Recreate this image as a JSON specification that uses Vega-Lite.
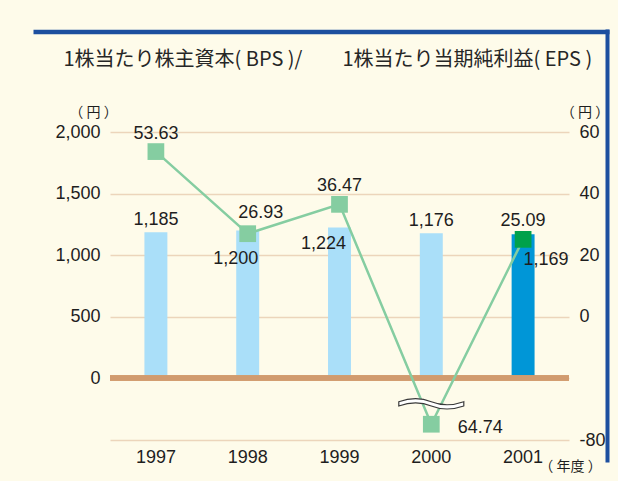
{
  "$schema": "https://vega.github.io/schema/vega-lite/v6.json",
  "width": 459,
  "height": 308,
  "autosize": {"type": "none"},
  "padding": {"left": 110, "top": 132, "right": 49, "bottom": 41},
  "background": "#fefbea",
  "config": {
    "view": {"stroke": null},
    "font": "Liberation Sans",
    "axis": {"titleFont": "Noto Sans CJK JP", "titleFontSize": 14, "titleFontWeight": "normal", "titleColor": "#1e1e1e"}
  },
  "data": {
    "values": [
      {"year": "1997", "bps": 1185, "eps": 53.63, "eps_label": "53.63"},
      {"year": "1998", "bps": 1200, "eps": 26.93, "eps_label": "26.93"},
      {"year": "1999", "bps": 1224, "eps": 36.47, "eps_label": "36.47"},
      {"year": "2000", "bps": 1176, "eps": -64.74, "eps_label": "64.74"},
      {"year": "2001", "bps": 1169, "eps": 25.09, "eps_label": "25.09"}
    ]
  },
  "layer": [
    {
      "layer": [
        {
          "layer": [
            {
              "mark": {"type": "bar", "width": {"band": 0.25}},
              "encoding": {
                "x": {
                  "field": "year", "type": "ordinal",
                  "scale": {"type": "band", "paddingInner": 0, "paddingOuter": 0},
                  "axis": {
                    "orient": "bottom", "domainColor": "#ecd5bb", "domainWidth": 1.5,
                    "ticks": false, "grid": false, "labelAngle": 0, "labelPadding": 8,
                    "labelFontSize": 18, "labelFont": "Liberation Sans", "labelColor": "#1e1e1e",
                    "title": "（ 年度 ）", "titleX": 460, "titleY": 26, "titleAlign": "center",
                    "titleBaseline": "middle", "titleFontSize": 14
                  }
                },
                "y": {
                  "field": "bps", "type": "quantitative",
                  "scale": {"domain": [-504, 2000], "nice": false, "zero": false},
                  "axis": {
                    "orient": "left", "values": [0, 500, 1000, 1500, 2000],
                    "labelExpr": "format(datum.value, ',')",
                    "domain": false, "ticks": false, "grid": true, "gridColor": "#ecd5bb",
                    "gridWidth": 1.5, "labelPadding": 10, "labelFontSize": 18,
                    "labelFont": "Liberation Sans", "labelColor": "#1e1e1e", "labelFlush": false,
                    "title": "（ 円 ）", "titleAngle": 0, "titleX": -17, "titleY": -20,
                    "titleAlign": "center", "titleBaseline": "middle", "titleFontSize": 14
                  }
                },
                "y2": {"datum": 0},
                "color": {
                  "condition": {"test": "datum.year == '2001'", "value": "#0096d7"},
                  "value": "#aadff9"
                }
              }
            },
            {
              "mark": {"type": "rule", "color": "#d19b6f", "strokeWidth": 5},
              "encoding": {"y": {"datum": 0, "type": "quantitative"}}
            },
            {
              "transform": [{"filter": "datum.year == '1997' || datum.year == '2000'"}],
              "mark": {"type": "text", "dy": -12, "baseline": "middle", "fontSize": 18, "font": "Liberation Sans", "color": "#1e1e1e"},
              "encoding": {
                "x": {"field": "year", "type": "ordinal", "scale": {"type": "band", "paddingInner": 0, "paddingOuter": 0}},
                "y": {"field": "bps", "type": "quantitative"},
                "text": {"field": "bps", "type": "quantitative", "format": ","}
              }
            },
            {
              "transform": [{"filter": "datum.year == '1998'"}],
              "mark": {"type": "text", "dx": -12, "dy": 29, "baseline": "middle", "fontSize": 18, "font": "Liberation Sans", "color": "#1e1e1e"},
              "encoding": {
                "x": {"field": "year", "type": "ordinal", "scale": {"type": "band", "paddingInner": 0, "paddingOuter": 0}},
                "y": {"field": "bps", "type": "quantitative"},
                "text": {"field": "bps", "type": "quantitative", "format": ","}
              }
            },
            {
              "transform": [{"filter": "datum.year == '1999'"}],
              "mark": {"type": "text", "dx": -16, "dy": 17, "baseline": "middle", "fontSize": 18, "font": "Liberation Sans", "color": "#1e1e1e"},
              "encoding": {
                "x": {"field": "year", "type": "ordinal", "scale": {"type": "band", "paddingInner": 0, "paddingOuter": 0}},
                "y": {"field": "bps", "type": "quantitative"},
                "text": {"field": "bps", "type": "quantitative", "format": ","}
              }
            },
            {
              "transform": [{"filter": "datum.year == '2001'"}],
              "mark": {"type": "text", "dx": 23, "dy": 26, "baseline": "middle", "fontSize": 18, "font": "Liberation Sans", "color": "#1e1e1e"},
              "encoding": {
                "x": {"field": "year", "type": "ordinal", "scale": {"type": "band", "paddingInner": 0, "paddingOuter": 0}},
                "y": {"field": "bps", "type": "quantitative"},
                "text": {"field": "bps", "type": "quantitative", "format": ","}
              }
            }
          ]
        },
        {
          "layer": [
            {
              "mark": {"type": "line", "color": "#85cda1", "strokeWidth": 2.5},
              "encoding": {
                "x": {"field": "year", "type": "ordinal", "scale": {"type": "band", "paddingInner": 0, "paddingOuter": 0}},
                "y": {
                  "field": "eps", "type": "quantitative",
                  "scale": {"domain": [-80, -20, 60], "range": [308, 246, 0]},
                  "axis": {
                    "orient": "right", "values": [-80, 0, 20, 40, 60], "domain": false,
                    "labelExpr": "datum.value < 0 ? '-' + format(-datum.value, 'd') : format(datum.value, 'd')",
                    "ticks": false, "grid": false, "labelPadding": 10, "labelFontSize": 18,
                    "labelFont": "Liberation Sans", "labelColor": "#1e1e1e", "labelFlush": false,
                    "title": "（ 円 ）", "titleAngle": 0, "titleX": 15.5, "titleY": -20,
                    "titleAlign": "center", "titleBaseline": "middle", "titleFontSize": 14
                  }
                }
              }
            },
            {
              "transform": [{"filter": "datum.year == '2000'"}],
              "mark": {
                "type": "point",
                "shape": "M-1,-0.065 C-0.6,-0.205 -0.3,-0.185 0,-0.065 C0.3,0.055 0.6,0.075 1,-0.065 L1,0.065 C0.6,0.205 0.3,0.185 0,0.065 C-0.3,-0.055 -0.6,-0.075 -1,0.065 Z",
                "filled": true, "fill": "#ffffff", "stroke": "#3a3a3a", "strokeWidth": 1.2,
                "size": 4225, "opacity": 1, "fillOpacity": 1
              },
              "encoding": {
                "x": {"field": "year", "type": "ordinal", "scale": {"type": "band", "paddingInner": 0, "paddingOuter": 0}},
                "y": {"datum": -45, "type": "quantitative"}
              }
            },
            {
              "mark": {"type": "point", "shape": "square", "filled": true, "size": 280, "opacity": 1},
              "encoding": {
                "x": {"field": "year", "type": "ordinal", "scale": {"type": "band", "paddingInner": 0, "paddingOuter": 0}},
                "y": {"field": "eps", "type": "quantitative"},
                "color": {
                  "condition": {"test": "datum.year == '2001'", "value": "#00a14b"},
                  "value": "#85cda1"
                }
              }
            },
            {
              "transform": [{"filter": "datum.year == '1997' || datum.year == '1999' || datum.year == '2001'"}],
              "mark": {"type": "text", "dy": -18, "baseline": "middle", "fontSize": 18, "font": "Liberation Sans", "color": "#1e1e1e"},
              "encoding": {
                "x": {"field": "year", "type": "ordinal", "scale": {"type": "band", "paddingInner": 0, "paddingOuter": 0}},
                "y": {"field": "eps", "type": "quantitative"},
                "text": {"field": "eps_label", "type": "nominal"}
              }
            },
            {
              "transform": [{"filter": "datum.year == '1998'"}],
              "mark": {"type": "text", "dx": 13, "dy": -21, "baseline": "middle", "fontSize": 18, "font": "Liberation Sans", "color": "#1e1e1e"},
              "encoding": {
                "x": {"field": "year", "type": "ordinal", "scale": {"type": "band", "paddingInner": 0, "paddingOuter": 0}},
                "y": {"field": "eps", "type": "quantitative"},
                "text": {"field": "eps_label", "type": "nominal"}
              }
            },
            {
              "transform": [{"filter": "datum.year == '2000'"}],
              "mark": {"type": "text", "dx": 49, "dy": 4, "baseline": "middle", "fontSize": 18, "font": "Liberation Sans", "color": "#1e1e1e"},
              "encoding": {
                "x": {"field": "year", "type": "ordinal", "scale": {"type": "band", "paddingInner": 0, "paddingOuter": 0}},
                "y": {"field": "eps", "type": "quantitative"},
                "text": {"field": "eps_label", "type": "nominal"}
              }
            }
          ]
        }
      ],
      "resolve": {"scale": {"y": "independent"}}
    },
    {
      "mark": {"type": "rule", "opacity": 0},
      "encoding": {
        "x": {
          "datum": 0.5, "type": "quantitative",
          "scale": {"domain": [0, 1], "range": [-77, 499]},
          "axis": {
            "orient": "top", "offset": 100.5, "domainColor": "#1d4f9f", "domainWidth": 4.5,
            "ticks": false, "labels": false, "grid": false,
            "title": "1株当たり株主資本( BPS )/　　1株当たり当期純利益( EPS )",
            "titleFont": "Noto Sans CJK JP", "titleFontSize": 20, "titleFontWeight": "normal",
            "titleColor": "#262626", "titleX": -47, "titleY": 27.5, "titleAlign": "left",
            "titleBaseline": "middle"
          }
        }
      }
    },
    {
      "mark": {"type": "rule", "opacity": 0},
      "encoding": {
        "y": {
          "datum": 0.5, "type": "quantitative",
          "scale": {"domain": [0, 1], "range": [330, -103]},
          "axis": {
            "orient": "right", "offset": 38, "domainColor": "#1d4f9f", "domainWidth": 4,
            "ticks": false, "labels": false, "grid": false, "title": null
          }
        }
      }
    }
  ],
  "resolve": {"scale": {"x": "independent", "y": "independent"}}
}
